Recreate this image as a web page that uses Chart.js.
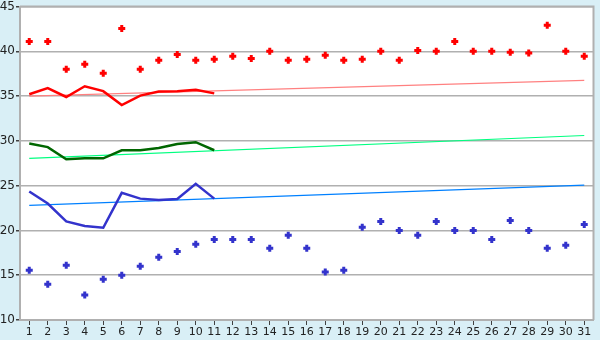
<!DOCTYPE html>
<html>
<head>
<meta charset="utf-8">
<script src="https://cdn.jsdelivr.net/npm/chart.js@4/dist/chart.umd.min.js"></script>
<style>
  html, body { margin: 0; padding: 0; background: #d9eff6; }
  #wrap { width: 600px; height: 340px; }
</style>
</head>
<body>
<div id="wrap"><canvas id="chart" width="600" height="340"></canvas></div>
<script>
// days of the month
const days = [];
for (let d = 1; d <= 31; d++) days.push(String(d));

// red points (top)
const redPoints = [41.1, 41.1, 38.0, 38.55, 37.55, 42.55, 38.0, 39.0, 39.65, 39.0,
  39.1, 39.45, 39.2, 40.0, 39.0, 39.1, 39.55, 39.0, 39.1, 40.0,
  39.0, 40.1, 40.0, 41.1, 40.0, 40.0, 39.9, 39.8, 42.9, 40.0, 39.45];

// blue points (bottom)
const bluePoints = [15.55, 14.0, 16.1, 12.8, 14.55, 15.0, 16.0, 17.0, 17.65, 18.45,
  19.0, 19.0, 19.0, 18.0, 19.45, 18.0, 15.35, 15.55, 20.35, 21.0,
  20.0, 19.45, 21.0, 20.0, 20.0, 19.0, 21.1, 20.0, 18.0, 18.35, 20.65];

// thick lines, days 1-11
const redLine = [35.2, 35.9, 34.9, 36.1, 35.55, 34.0, 35.05, 35.5, 35.55, 35.7, 35.3];
const greenLine = [29.7, 29.3, 27.95, 28.05, 28.05, 28.95, 28.95, 29.2, 29.65, 29.85, 28.95];
const blueLine = [24.35, 23.0, 21.0, 20.5, 20.3, 24.2, 23.55, 23.4, 23.5, 25.2, 23.55];

// trend lines (start at day 1, end at day 31)
const redTrend = [35.0, 36.75];
const greenTrend = [28.05, 30.6];
const blueTrend = [22.8, 25.05];

const yTicks = [10, 15, 20, 25, 30, 35, 40, 45];

function ends(pair) {
  const arr = new Array(days.length).fill(null);
  arr[0] = pair[0];
  arr[days.length - 1] = pair[1];
  return arr;
}

const bgPlugin = {
  id: 'bg',
  beforeDraw(chart) {
    const ctx = chart.ctx, a = chart.chartArea;
    ctx.save();
    ctx.fillStyle = '#d9eff6';
    ctx.fillRect(0, 0, chart.width, chart.height);
    ctx.fillStyle = '#ffffff';
    ctx.fillRect(a.left, a.top, a.right - a.left, a.bottom - a.top);
    ctx.restore();
  },
  afterDatasetsDraw(chart) {
    const ctx = chart.ctx, a = chart.chartArea;
    ctx.save();
    ctx.strokeStyle = '#b0b0b0';
    ctx.lineWidth = 2;
    ctx.beginPath();
    ctx.moveTo(a.left, a.top);
    ctx.lineTo(a.right, a.top);
    ctx.lineTo(a.right, a.bottom);
    ctx.stroke();
    ctx.restore();
  }
};

const pointDs = (data, color) => ({
  data: data,
  showLine: false,
  pointStyle: 'cross',
  pointRadius: 3.5,
  pointHoverRadius: 3.5,
  pointBorderWidth: 3,
  borderColor: color,
  backgroundColor: color,
  order: 1
});
const lineDs = (data, color) => ({
  data: data,
  borderColor: color,
  borderWidth: 2.5,
  pointRadius: 0,
  tension: 0,
  order: 2
});
const trendDs = (pair, color) => ({
  data: ends(pair),
  borderColor: color,
  borderWidth: 1.2,
  pointRadius: 0,
  spanGaps: true,
  order: 3
});

new Chart(document.getElementById('chart'), {
  type: 'line',
  data: {
    labels: days,
    datasets: [
      pointDs(redPoints, '#ff0000'),
      pointDs(bluePoints, '#3333cc'),
      lineDs(redLine, '#ff0000'),
      lineDs(greenLine, '#006600'),
      lineDs(blueLine, '#3333cc'),
      trendDs(redTrend, '#ff8080'),
      trendDs(greenTrend, '#00ff80'),
      trendDs(blueTrend, '#0080ff')
    ]
  },
  options: {
    responsive: false,
    animation: false,
    layout: { padding: { top: 5, right: 5, left: 0, bottom: 0 } },
    plugins: { legend: { display: false }, tooltip: { enabled: false } },
    scales: {
      x: {
        offset: true,
        grid: { display: true, drawOnChartArea: false, drawTicks: true, tickLength: 5, color: '#404040', offset: false },
        border: { color: '#b0b0b0', width: 2 },
        ticks: { color: '#222', font: { family: 'DejaVu Sans', size: 11 }, padding: 1, maxRotation: 0, autoSkip: false },
        afterFit(s) { s.height = 20; s.paddingLeft = 0; s.paddingRight = 0; }
      },
      y: {
        min: 10, max: 45,
        afterBuildTicks(s) { s.ticks = yTicks.map(v => ({ value: v })); },
        grid: { color: '#b0b0b0', lineWidth: 1.5, tickLength: 4, tickColor: '#404040' },
        border: { color: '#b0b0b0', width: 2 },
        ticks: { color: '#222', font: { family: 'DejaVu Sans', size: 12 }, padding: 1 },
        afterFit(s) { s.width = 20; s.paddingTop = 0; s.paddingBottom = 0; }
      }
    }
  },
  plugins: [bgPlugin]
});
</script>
</body>
</html>
